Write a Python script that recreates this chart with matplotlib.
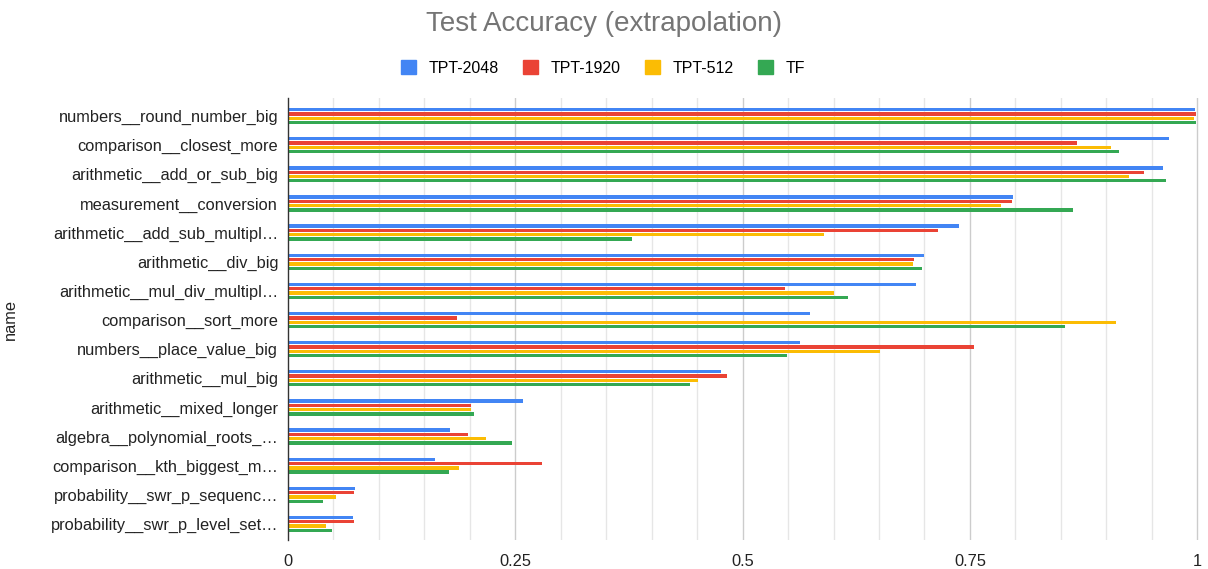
import matplotlib
matplotlib.use("Agg")
import matplotlib.pyplot as plt
import numpy as np

plt.rcParams['font.family'] = ['Liberation Sans', 'DejaVu Sans']

categories = [
    "numbers__round_number_big",
    "comparison__closest_more",
    "arithmetic__add_or_sub_big",
    "measurement__conversion",
    "arithmetic__add_sub_multipl…",
    "arithmetic__div_big",
    "arithmetic__mul_div_multipl…",
    "comparison__sort_more",
    "numbers__place_value_big",
    "arithmetic__mul_big",
    "arithmetic__mixed_longer",
    "algebra__polynomial_roots_…",
    "comparison__kth_biggest_m…",
    "probability__swr_p_sequenc…",
    "probability__swr_p_level_set…",
]
series_names = ["TPT-2048", "TPT-1920", "TPT-512", "TF"]
tpt2048 = [0.998, 0.969, 0.962, 0.797, 0.738, 0.700, 0.691, 0.574, 0.563, 0.476, 0.258, 0.178, 0.162, 0.074, 0.071]
tpt1920 = [0.999, 0.868, 0.941, 0.796, 0.715, 0.689, 0.547, 0.186, 0.754, 0.483, 0.201, 0.198, 0.279, 0.073, 0.073]
tpt512  = [0.996, 0.905, 0.925, 0.784, 0.589, 0.687, 0.601, 0.911, 0.651, 0.451, 0.201, 0.218, 0.188, 0.053, 0.042]
tf      = [0.999, 0.914, 0.966, 0.863, 0.378, 0.697, 0.616, 0.855, 0.549, 0.442, 0.205, 0.246, 0.177, 0.039, 0.048]
colors = ["#4285F4", "#EA4335", "#FBBC04", "#34A853"]

W, H = 1208, 569
fig = plt.figure(figsize=(W/100, H/100), dpi=100)
ax_l, ax_r, ax_t, ax_b = 288, 1200, 98, 540
ax = fig.add_axes([ax_l/W, 1 - ax_b/H, (ax_r-ax_l)/W, (ax_b-ax_t)/H])

n = len(categories)
y = np.arange(n)
pitch = 0.148
bh = 0.115
for i, (vals, c, name) in enumerate(zip([tpt2048, tpt1920, tpt512, tf], colors, series_names)):
    ax.barh(y + (i - 1.5) * pitch, vals, height=bh, color=c, label=name, zorder=3)

ax.set_ylim(n - 0.45, -0.62)
ax.set_xlim(0, 1.003)
ax.set_yticks(y)
ax.set_yticklabels(categories, fontsize=11.8, color="#222222")
ax.set_xticks([0, 0.25, 0.5, 0.75, 1])
ax.set_xticklabels(["0", "0.25", "0.5", "0.75", "1"], fontsize=11.8, color="#222222")
ax.tick_params(length=0, pad=10)
ax.tick_params(axis='y', pad=7)

for gx in np.arange(0.05, 1.001, 0.05):
    major = abs(gx / 0.25 - round(gx / 0.25)) < 1e-6
    ax.axvline(gx, color="#cccccc" if major else "#e6e6e6", lw=1, zorder=1)

for s in ["top", "right", "bottom"]:
    ax.spines[s].set_visible(False)
ax.spines["left"].set_color("#333333")
ax.spines["left"].set_linewidth(1)
ax.spines["left"].set_zorder(4)

ax.set_ylabel("name", fontsize=11.8, color="#222222")
ax.yaxis.set_label_coords(-(ax_l - 18)/(ax_r - ax_l), 0.5)

fig.text(604/W, 1 - 24/H, "Test Accuracy (extrapolation)", ha="center", va="center",
         fontsize=20, color="#757575")

handles = [plt.Rectangle((0, 0), 1, 1, color=c) for c in colors]
fig.legend(handles, series_names, loc="center", bbox_to_anchor=(603/W, 1 - 68/H), ncol=4,
           frameon=False, fontsize=11.5, handlelength=0.95, handleheight=0.95, handletextpad=0.8,
           columnspacing=1.5)

fig.savefig("out.png", dpi=100)
